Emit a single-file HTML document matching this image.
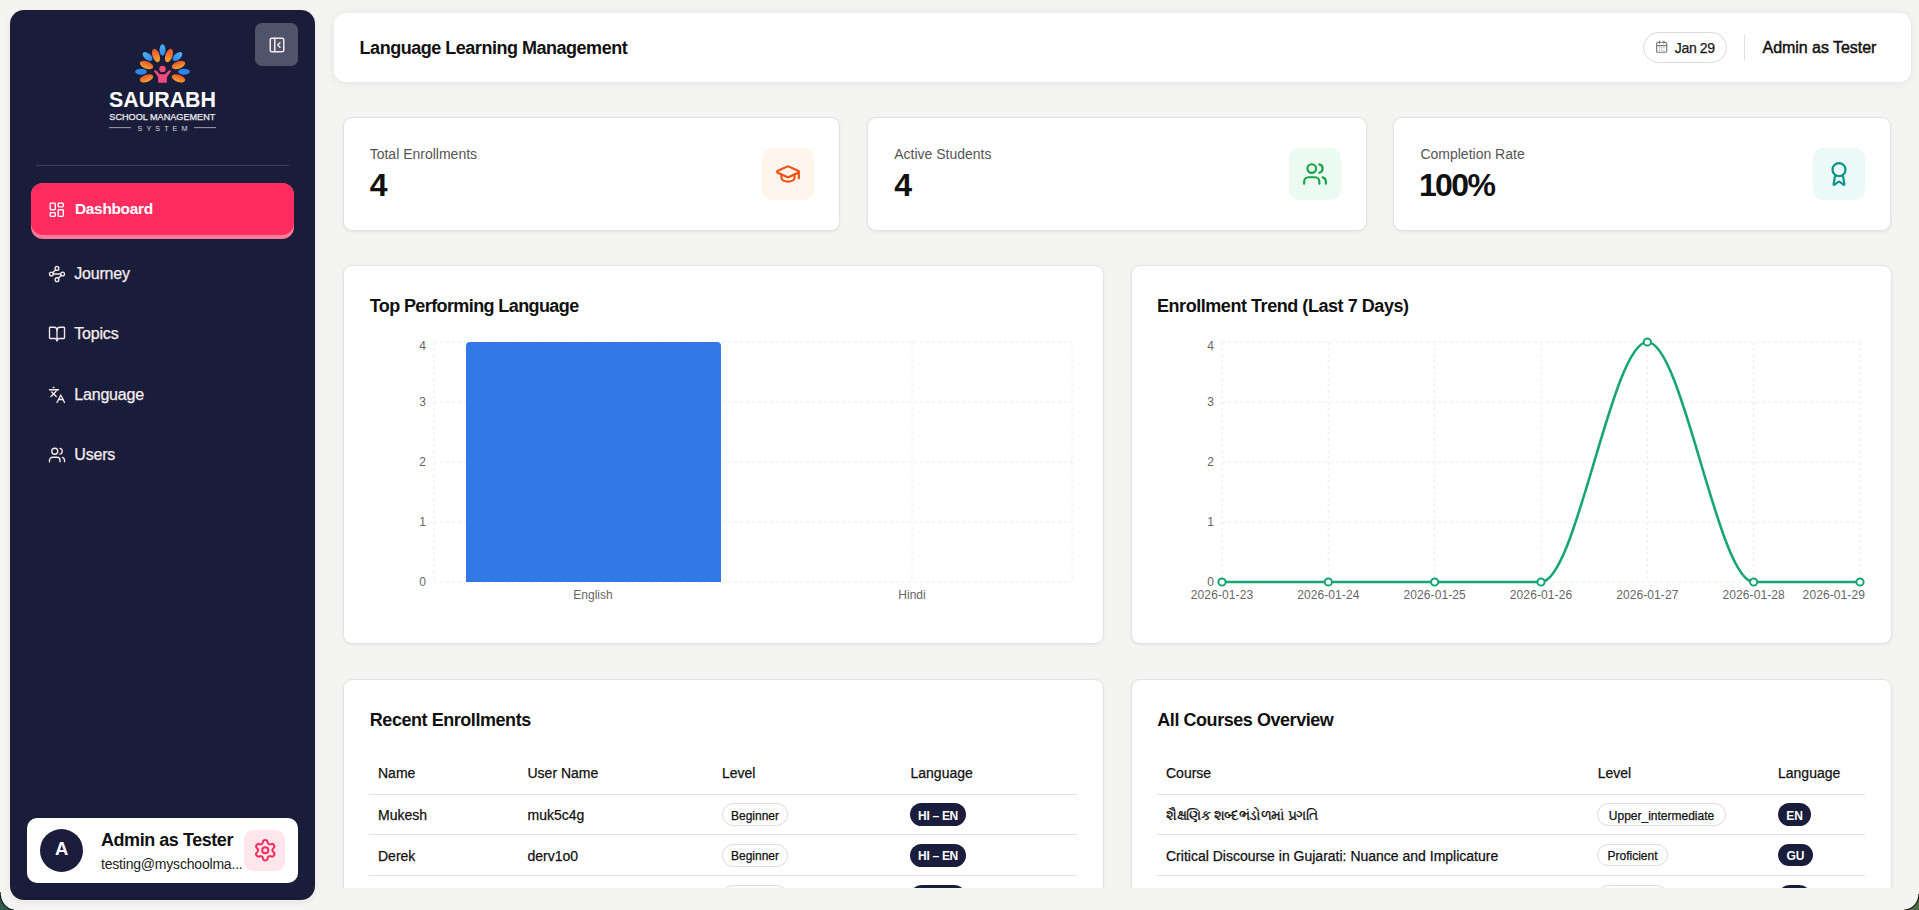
<!DOCTYPE html>
<html><head><meta charset="utf-8"><style>
*{box-sizing:border-box;margin:0;padding:0}
html,body{width:1919px;height:910px;overflow:hidden}
body{background:#f4f4f2;font-family:"Liberation Sans",sans-serif;color:#111;position:relative}
.t{position:absolute;line-height:1;white-space:nowrap}
.ic{position:absolute;display:block}
.box{position:absolute}
.card{position:absolute;background:#fff;border:1px solid #e3e3e6;border-radius:9px;box-shadow:0 1px 3px rgba(0,0,0,.07)}
.pill{position:absolute;border:1px solid #dcdcdf;border-radius:12px;background:#fff}
.dpill{position:absolute;border-radius:12px;background:#1a1d3b}
</style></head><body>
<svg class="ic" style="left:0;top:860px;width:40px;height:50px" viewBox="0 860 40 50"><path d="M0,892 A14,18 0 0 0 14,910 L0,910 Z" fill="#2f5e50"/><path d="M0,892 A14,18 0 0 0 14,910" fill="none" stroke="#0c1a14" stroke-width="1.2"/></svg><svg class="ic" style="left:1879px;top:870px;width:40px;height:40px" viewBox="1879 870 40 40"><path d="M1919,894 A15,16 0 0 1 1904,910 L1919,910 Z" fill="#4f6b45"/><path d="M1919,894 A15,16 0 0 1 1904,910" fill="none" stroke="#101a0c" stroke-width="1.2"/></svg><div class="box" style="left:10px;top:10px;width:305px;height:890px;background:#1a1d3a;border-radius:14px;box-shadow:0 0 0 1px #fbeaea,0 2px 6px rgba(0,0,0,.08)"></div><div class="box" style="left:255px;top:23px;width:43px;height:43px;border-radius:7px;background:#50546a"></div><svg class="ic" style="left:267.7px;top:35.6px;width:18px;height:18px;" viewBox="0 0 24 24" fill="none" stroke="#f5e9ea" stroke-width="2" stroke-linecap="round" stroke-linejoin="round"><rect width="18" height="18" x="3" y="3" rx="2"/><path d="M9 3v18"/><path d="m16 15-3-3 3-3"/></svg>
<svg class="ic" style="left:100px;top:36px;width:124px;height:100px" viewBox="0 0 124 100">
<defs>
<linearGradient id="og" x1="0" y1="0" x2="0" y2="1"><stop offset="0" stop-color="#e8502a"/><stop offset="1" stop-color="#f7a531"/></linearGradient>
<linearGradient id="bg" x1="0" y1="0" x2="0" y2="1"><stop offset="0" stop-color="#4fb2f2"/><stop offset="1" stop-color="#2d8ae8"/></linearGradient>
</defs>
<g transform="translate(-100,-36)">
<ellipse cx="162.5" cy="50" rx="3" ry="5.8" fill="url(#bg)"/>
<ellipse cx="156" cy="55.5" rx="3.5" ry="7" fill="url(#og)" transform="rotate(-20 156 55.5)"/>
<ellipse cx="169" cy="55.5" rx="3.5" ry="7" fill="url(#og)" transform="rotate(20 169 55.5)"/>
<ellipse cx="147.5" cy="56.5" rx="3.2" ry="5.8" fill="url(#bg)" transform="rotate(-50 147.5 56.5)"/>
<ellipse cx="177.5" cy="56.5" rx="3.2" ry="5.8" fill="url(#bg)" transform="rotate(50 177.5 56.5)"/>
<ellipse cx="146.5" cy="65" rx="7" ry="3.6" fill="url(#og)" transform="rotate(20 146.5 65)"/>
<ellipse cx="178.5" cy="65" rx="7" ry="3.6" fill="url(#og)" transform="rotate(-20 178.5 65)"/>
<ellipse cx="141" cy="71.7" rx="5.8" ry="3" fill="#2f86ea"/>
<ellipse cx="184" cy="71.7" rx="5.8" ry="3" fill="#2f86ea"/>
<ellipse cx="146.5" cy="78.3" rx="7" ry="3.6" fill="url(#og)" transform="rotate(-20 146.5 78.3)"/>
<ellipse cx="178.5" cy="78.3" rx="7" ry="3.6" fill="url(#og)" transform="rotate(20 178.5 78.3)"/>
<circle cx="162.5" cy="68.9" r="3.2" fill="#ee4a7c"/>
<path d="M153.8 71 Q155.2 69.6 156.8 70.9 L159.8 74.2 L165.2 74.2 L168.2 70.9 Q169.8 69.6 171.2 71 L167 77 L166.8 82.8 L158.2 82.8 L158 77 Z" fill="#ee4a7c"/>
<text x="162.5" y="107.3" text-anchor="middle" font-family="Liberation Sans" font-weight="700" font-size="22" fill="#fff" textLength="107" lengthAdjust="spacingAndGlyphs">SAURABH</text>
<text x="162.3" y="120.2" text-anchor="middle" font-family="Liberation Sans" font-size="9.4" fill="#ececf0" stroke="#ececf0" stroke-width="0.25" textLength="106" lengthAdjust="spacingAndGlyphs">SCHOOL MANAGEMENT</text>
<rect x="109" y="127.2" width="22" height="0.9" fill="#a8aabb"/>
<rect x="194" y="127.2" width="22" height="0.9" fill="#a8aabb"/>
<text x="162.5" y="130.5" text-anchor="middle" font-family="Liberation Sans" font-size="7.2" fill="#d8d9e2" textLength="50" lengthAdjust="spacing">SYSTEM</text>
</g></svg>
<div class="box" style="left:36px;top:165px;width:253px;height:1px;background:#3a3d58"></div><div class="box" style="left:31px;top:183px;width:263px;height:56px;border-radius:12px;background:#ff7a9b"></div><div class="box" style="left:31px;top:183px;width:263px;height:52px;border-radius:12px;background:#ff2d5f"></div><svg class="ic" style="left:47.6px;top:200.6px;width:17.5px;height:17.5px;" viewBox="0 0 24 24" fill="none" stroke="#fff" stroke-width="1.85" stroke-linecap="round" stroke-linejoin="round"><rect width="7" height="9" x="3" y="3" rx="1"/><rect width="7" height="5" x="14" y="3" rx="1"/><rect width="7" height="9" x="14" y="12" rx="1"/><rect width="7" height="5" x="3" y="16" rx="1"/></svg>
<div class="t " style="left:75.00px;top:201.08px;font-size:15.5px;font-weight:700;color:#fff;letter-spacing:-0.35px;">Dashboard</div>
<svg class="ic" style="left:47.7px;top:264.59999999999997px;width:18px;height:18px;" viewBox="0 0 24 24" fill="none" stroke="#f3e9ea" stroke-width="1.8" stroke-linecap="round" stroke-linejoin="round"><circle cx="12" cy="4.5" r="2.5"/><path d="m10.2 6.3-3.9 3.9"/><circle cx="4.5" cy="12" r="2.5"/><path d="M7 12h10"/><circle cx="19.5" cy="12" r="2.5"/><path d="m13.8 17.7 3.9-3.9"/><circle cx="12" cy="19.5" r="2.5"/></svg>
<div class="t " style="left:74.30px;top:265.86px;font-size:16px;color:#f6eeee;letter-spacing:-0.2px;-webkit-text-stroke:0.25px currentColor;">Journey</div>
<svg class="ic" style="left:47.7px;top:324.59999999999997px;width:18px;height:18px;" viewBox="0 0 24 24" fill="none" stroke="#f3e9ea" stroke-width="1.8" stroke-linecap="round" stroke-linejoin="round"><path d="M12 7v14"/><path d="M3 18a1 1 0 0 1-1-1V4a1 1 0 0 1 1-1h5a4 4 0 0 1 4 4 4 4 0 0 1 4-4h5a1 1 0 0 1 1 1v13a1 1 0 0 1-1 1h-6a3 3 0 0 0-3 3 3 3 0 0 0-3-3z"/></svg>
<div class="t " style="left:74.30px;top:325.86px;font-size:16px;color:#f6eeee;letter-spacing:-0.2px;-webkit-text-stroke:0.25px currentColor;">Topics</div>
<svg class="ic" style="left:47.7px;top:385.8px;width:18px;height:18px;" viewBox="0 0 24 24" fill="none" stroke="#f3e9ea" stroke-width="1.8" stroke-linecap="round" stroke-linejoin="round"><path d="m5 8 6 6"/><path d="m4 14 6-6 2-3"/><path d="M2 5h12"/><path d="M7 2h1"/><path d="m22 22-5-10-5 10"/><path d="M14 18h6"/></svg>
<div class="t " style="left:74.30px;top:387.06px;font-size:16px;color:#f6eeee;letter-spacing:-0.2px;-webkit-text-stroke:0.25px currentColor;">Language</div>
<svg class="ic" style="left:47.7px;top:445.8px;width:18px;height:18px;" viewBox="0 0 24 24" fill="none" stroke="#f3e9ea" stroke-width="1.8" stroke-linecap="round" stroke-linejoin="round"><path d="M16 21v-2a4 4 0 0 0-4-4H6a4 4 0 0 0-4 4v2"/><circle cx="9" cy="7" r="4"/><path d="M22 21v-2a4 4 0 0 0-3-3.87"/><path d="M16 3.13a4 4 0 0 1 0 7.75"/></svg>
<div class="t " style="left:74.30px;top:447.06px;font-size:16px;color:#f6eeee;letter-spacing:-0.2px;-webkit-text-stroke:0.25px currentColor;">Users</div>
<div class="box" style="left:27px;top:818px;width:271px;height:65px;border-radius:10px;background:#fff"></div><div class="box" style="left:40px;top:829px;width:43px;height:43px;border-radius:50%;background:#1a1d3b"></div><div class="t " style="left:61.60px;transform:translateX(-50%);top:840.44px;font-size:18.5px;font-weight:700;color:#fff;">A</div>
<div class="t " style="left:101.00px;top:830.96px;font-size:18px;font-weight:700;color:#111;letter-spacing:-0.45px;">Admin as Tester</div>
<div class="t " style="left:101.00px;top:857.05px;font-size:14px;color:#222;letter-spacing:-0.2px;">testing@myschoolma...</div>
<div class="box" style="left:244px;top:830px;width:41px;height:41px;border-radius:9px;background:#ffe6ec"></div><svg class="ic" style="left:252.8px;top:838px;width:24.5px;height:24.5px;" viewBox="0 0 24 24" fill="none" stroke="#ff2d5f" stroke-width="2" stroke-linecap="round" stroke-linejoin="round"><path d="M9.671 4.136a2.34 2.34 0 0 1 4.659 0 2.34 2.34 0 0 0 3.319 1.915 2.34 2.34 0 0 1 2.33 4.033 2.34 2.34 0 0 0 0 3.831 2.34 2.34 0 0 1-2.33 4.033 2.34 2.34 0 0 0-3.319 1.915 2.34 2.34 0 0 1-4.659 0 2.34 2.34 0 0 0-3.32-1.915 2.34 2.34 0 0 1-2.33-4.033 2.34 2.34 0 0 0 0-3.831A2.34 2.34 0 0 1 6.35 6.051a2.34 2.34 0 0 0 3.319-1.915"/><circle cx="12" cy="12" r="3"/></svg>
<div class="box" style="left:334px;top:13px;width:1577px;height:69px;border-radius:12px;background:#fff;box-shadow:0 1px 10px rgba(0,0,0,.075)"></div><div class="t " style="left:359.60px;top:38.66px;font-size:18px;font-weight:700;color:#111;letter-spacing:-0.48px;">Language Learning Management</div>
<div class="box" style="left:1643px;top:32px;width:84px;height:31px;border-radius:16px;border:1px solid #d9d9dc"></div><svg class="ic" style="left:1654.8px;top:40.2px;width:13.4px;height:13.4px;" viewBox="0 0 24 24" fill="none" stroke="#74747c" stroke-width="2" stroke-linecap="round" stroke-linejoin="round"><rect width="18" height="18" x="3" y="4" rx="2"/><path d="M16 2v4"/><path d="M8 2v4"/><path d="M3 10h18"/><path d="M8 14h.01"/><path d="M12 14h.01"/><path d="M16 14h.01"/><path d="M8 18h.01"/><path d="M12 18h.01"/><path d="M16 18h.01"/></svg>
<div class="t " style="left:1674.80px;top:41.05px;font-size:14px;color:#1a1a1a;letter-spacing:-0.35px;-webkit-text-stroke:0.25px currentColor;">Jan 29</div>
<div class="box" style="left:1744px;top:35px;width:1px;height:25px;background:#dedee2"></div><div class="t " style="left:1762.60px;top:39.66px;font-size:16px;color:#111;letter-spacing:-0.05px;-webkit-text-stroke:0.45px #111;">Admin as Tester</div>
<div class="card" style="left:342.7px;top:117.3px;width:497.5px;height:113.5px"></div><div class="t " style="left:369.70px;top:147.15px;font-size:14px;color:#555;">Total Enrollments</div>
<div class="t " style="left:369.70px;top:168.81px;font-size:32px;font-weight:700;color:#111;letter-spacing:-0.8px;">4</div>
<div class="box" style="left:762.2px;top:148px;width:52px;height:52px;border-radius:10px;background:#fff5ec"></div><svg class="ic" style="left:775.2px;top:161px;width:26px;height:26px;" viewBox="0 0 24 24" fill="none" stroke="#f0500f" stroke-width="2" stroke-linecap="round" stroke-linejoin="round"><path d="M21.42 10.922a1 1 0 0 0-.019-1.838L12.83 5.18a2 2 0 0 0-1.66 0L2.6 9.08a1 1 0 0 0 0 1.832l8.57 3.908a2 2 0 0 0 1.66 0z"/><path d="M22 10v6"/><path d="M6 12.5V16a6 3 0 0 0 12 0v-3.5"/></svg>
<div class="card" style="left:867.2px;top:117.3px;width:499.6px;height:113.5px"></div><div class="t " style="left:894.20px;top:147.15px;font-size:14px;color:#555;">Active Students</div>
<div class="t " style="left:894.20px;top:168.81px;font-size:32px;font-weight:700;color:#111;letter-spacing:-0.8px;">4</div>
<div class="box" style="left:1288.8000000000002px;top:148px;width:52px;height:52px;border-radius:10px;background:#ecfbf1"></div><svg class="ic" style="left:1301.8000000000002px;top:161px;width:26px;height:26px;" viewBox="0 0 24 24" fill="none" stroke="#16a34a" stroke-width="2" stroke-linecap="round" stroke-linejoin="round"><path d="M16 21v-2a4 4 0 0 0-4-4H6a4 4 0 0 0-4 4v2"/><circle cx="9" cy="7" r="4"/><path d="M22 21v-2a4 4 0 0 0-3-3.87"/><path d="M16 3.13a4 4 0 0 1 0 7.75"/></svg>
<div class="card" style="left:1393.4px;top:117.3px;width:497.9px;height:113.5px"></div><div class="t " style="left:1420.40px;top:147.15px;font-size:14px;color:#555;">Completion Rate</div>
<div class="t " style="left:1418.90px;top:168.81px;font-size:32px;font-weight:700;color:#111;letter-spacing:-1.6px;">100%</div>
<div class="box" style="left:1813.3000000000002px;top:148px;width:52px;height:52px;border-radius:10px;background:#ebfaf7"></div><svg class="ic" style="left:1826.3000000000002px;top:161px;width:26px;height:26px;" viewBox="0 0 24 24" fill="none" stroke="#0d9488" stroke-width="2" stroke-linecap="round" stroke-linejoin="round"><path d="m15.477 12.89 1.515 8.526a.5.5 0 0 1-.81.47l-3.58-2.687a1 1 0 0 0-1.197 0l-3.586 2.686a.5.5 0 0 1-.81-.469l1.514-8.526"/><circle cx="12" cy="8" r="6"/></svg>
<div class="card" style="left:343px;top:265px;width:761px;height:379px"></div><div class="card" style="left:1131px;top:265px;width:761px;height:379px"></div><div class="t " style="left:369.70px;top:297.46px;font-size:18px;font-weight:700;color:#111;letter-spacing:-0.6px;">Top Performing Language</div>
<div class="t " style="left:1157.00px;top:297.46px;font-size:18px;font-weight:700;color:#111;letter-spacing:-0.45px;">Enrollment Trend (Last 7 Days)</div>
<svg class="ic" style="left:0;top:0;width:1919px;height:910px" viewBox="0 0 1919 910">
<line x1="434" y1="342" x2="1072" y2="342" stroke="#ececec" stroke-dasharray="3 3"/>
<line x1="434" y1="402" x2="1072" y2="402" stroke="#ececec" stroke-dasharray="3 3"/>
<line x1="434" y1="462" x2="1072" y2="462" stroke="#ececec" stroke-dasharray="3 3"/>
<line x1="434" y1="522" x2="1072" y2="522" stroke="#ececec" stroke-dasharray="3 3"/>
<line x1="434" y1="582" x2="1072" y2="582" stroke="#ececec" stroke-dasharray="3 3"/>
<line x1="434" y1="342" x2="434" y2="582" stroke="#ececec" stroke-dasharray="3 3"/>
<line x1="593" y1="342" x2="593" y2="582" stroke="#ececec" stroke-dasharray="3 3"/>
<line x1="912" y1="342" x2="912" y2="582" stroke="#ececec" stroke-dasharray="3 3"/>
<line x1="1072" y1="342" x2="1072" y2="582" stroke="#ececec" stroke-dasharray="3 3"/>
<path d="M466 582 V346 a4 4 0 0 1 4 -4 H717 a4 4 0 0 1 4 4 V582 Z" fill="#3278e6"/>
<line x1="1222" y1="342" x2="1860" y2="342" stroke="#ececec" stroke-dasharray="3 3"/>
<line x1="1222" y1="402" x2="1860" y2="402" stroke="#ececec" stroke-dasharray="3 3"/>
<line x1="1222" y1="462" x2="1860" y2="462" stroke="#ececec" stroke-dasharray="3 3"/>
<line x1="1222" y1="522" x2="1860" y2="522" stroke="#ececec" stroke-dasharray="3 3"/>
<line x1="1222" y1="582" x2="1860" y2="582" stroke="#ececec" stroke-dasharray="3 3"/>
<line x1="1222.0" y1="342" x2="1222.0" y2="582" stroke="#ececec" stroke-dasharray="3 3"/>
<line x1="1328.3" y1="342" x2="1328.3" y2="582" stroke="#ececec" stroke-dasharray="3 3"/>
<line x1="1434.7" y1="342" x2="1434.7" y2="582" stroke="#ececec" stroke-dasharray="3 3"/>
<line x1="1541.0" y1="342" x2="1541.0" y2="582" stroke="#ececec" stroke-dasharray="3 3"/>
<line x1="1647.3" y1="342" x2="1647.3" y2="582" stroke="#ececec" stroke-dasharray="3 3"/>
<line x1="1753.7" y1="342" x2="1753.7" y2="582" stroke="#ececec" stroke-dasharray="3 3"/>
<line x1="1860.0" y1="342" x2="1860.0" y2="582" stroke="#ececec" stroke-dasharray="3 3"/>
<path d="M1222.00,582C1257.44,582 1292.89,582 1328.33,582C1363.78,582 1399.22,582 1434.67,582C1470.11,582 1505.56,582 1541.00,582C1576.44,582 1611.89,342 1647.33,342C1682.78,342 1718.22,582 1753.67,582C1789.11,582 1824.56,582 1860.00,582" fill="none" stroke="#17a673" stroke-width="2.6"/>
<circle cx="1222.00" cy="582" r="3.6" fill="#fff" stroke="#17a673" stroke-width="2"/>
<circle cx="1328.33" cy="582" r="3.6" fill="#fff" stroke="#17a673" stroke-width="2"/>
<circle cx="1434.67" cy="582" r="3.6" fill="#fff" stroke="#17a673" stroke-width="2"/>
<circle cx="1541.00" cy="582" r="3.6" fill="#fff" stroke="#17a673" stroke-width="2"/>
<circle cx="1647.33" cy="342" r="3.6" fill="#fff" stroke="#17a673" stroke-width="2"/>
<circle cx="1753.67" cy="582" r="3.6" fill="#fff" stroke="#17a673" stroke-width="2"/>
<circle cx="1860.00" cy="582" r="3.6" fill="#fff" stroke="#17a673" stroke-width="2"/>
</svg><div class="t " style="right:1493.00px;top:339.84px;font-size:12px;color:#666;">4</div>
<div class="t " style="right:705.00px;top:339.84px;font-size:12px;color:#666;">4</div>
<div class="t " style="right:1493.00px;top:395.84px;font-size:12px;color:#666;">3</div>
<div class="t " style="right:705.00px;top:395.84px;font-size:12px;color:#666;">3</div>
<div class="t " style="right:1493.00px;top:455.84px;font-size:12px;color:#666;">2</div>
<div class="t " style="right:705.00px;top:455.84px;font-size:12px;color:#666;">2</div>
<div class="t " style="right:1493.00px;top:515.84px;font-size:12px;color:#666;">1</div>
<div class="t " style="right:705.00px;top:515.84px;font-size:12px;color:#666;">1</div>
<div class="t " style="right:1493.00px;top:575.84px;font-size:12px;color:#666;">0</div>
<div class="t " style="right:705.00px;top:575.84px;font-size:12px;color:#666;">0</div>
<div class="t " style="left:593.00px;transform:translateX(-50%);top:589.24px;font-size:12px;color:#666;">English</div>
<div class="t " style="left:912.00px;transform:translateX(-50%);top:589.24px;font-size:12px;color:#666;">Hindi</div>
<div class="t " style="left:1222.00px;transform:translateX(-50%);top:589.04px;font-size:12px;color:#666;letter-spacing:0.1px;">2026-01-23</div>
<div class="t " style="left:1328.33px;transform:translateX(-50%);top:589.04px;font-size:12px;color:#666;letter-spacing:0.1px;">2026-01-24</div>
<div class="t " style="left:1434.67px;transform:translateX(-50%);top:589.04px;font-size:12px;color:#666;letter-spacing:0.1px;">2026-01-25</div>
<div class="t " style="left:1541.00px;transform:translateX(-50%);top:589.04px;font-size:12px;color:#666;letter-spacing:0.1px;">2026-01-26</div>
<div class="t " style="left:1647.33px;transform:translateX(-50%);top:589.04px;font-size:12px;color:#666;letter-spacing:0.1px;">2026-01-27</div>
<div class="t " style="left:1753.67px;transform:translateX(-50%);top:589.04px;font-size:12px;color:#666;letter-spacing:0.1px;">2026-01-28</div>
<div class="t " style="right:54.00px;top:589.04px;font-size:12px;color:#666;letter-spacing:0.1px;">2026-01-29</div>
<div class="box" style="left:320px;top:0;width:1599px;height:888px;overflow:hidden"><div class="card" style="left:23px;top:679px;width:761px;height:300px"></div><div class="card" style="left:811px;top:679px;width:761px;height:300px"></div></div><div class="t " style="left:369.80px;top:710.86px;font-size:18px;font-weight:700;color:#111;letter-spacing:-0.45px;">Recent Enrollments</div>
<div class="t " style="left:1157.30px;top:710.86px;font-size:18px;font-weight:700;color:#111;letter-spacing:-0.45px;">All Courses Overview</div>
<div class="t " style="left:378.00px;top:765.55px;font-size:14px;color:#111;-webkit-text-stroke:0.25px currentColor;">Name</div>
<div class="t " style="left:527.50px;top:765.55px;font-size:14px;color:#111;-webkit-text-stroke:0.25px currentColor;">User Name</div>
<div class="t " style="left:722.00px;top:765.55px;font-size:14px;color:#111;-webkit-text-stroke:0.25px currentColor;">Level</div>
<div class="t " style="left:910.50px;top:765.55px;font-size:14px;color:#111;-webkit-text-stroke:0.25px currentColor;">Language</div>
<div class="t " style="left:1166.00px;top:765.55px;font-size:14px;color:#111;-webkit-text-stroke:0.25px currentColor;">Course</div>
<div class="t " style="left:1597.70px;top:765.55px;font-size:14px;color:#111;-webkit-text-stroke:0.25px currentColor;">Level</div>
<div class="t " style="left:1778.00px;top:765.55px;font-size:14px;color:#111;-webkit-text-stroke:0.25px currentColor;">Language</div>
<div class="box" style="left:369px;top:794px;width:708px;height:1px;background:#e2e2e5"></div><div class="box" style="left:369px;top:834px;width:708px;height:1px;background:#e2e2e5"></div><div class="box" style="left:369px;top:875px;width:708px;height:1px;background:#e2e2e5"></div><div class="box" style="left:1157px;top:794px;width:708px;height:1px;background:#e2e2e5"></div><div class="box" style="left:1157px;top:834px;width:708px;height:1px;background:#e2e2e5"></div><div class="box" style="left:1157px;top:875px;width:708px;height:1px;background:#e2e2e5"></div><div class="t " style="left:378.00px;top:808.45px;font-size:14px;color:#111;-webkit-text-stroke:0.25px currentColor;">Mukesh</div>
<div class="t " style="left:527.50px;top:808.45px;font-size:14px;color:#111;-webkit-text-stroke:0.25px currentColor;">muk5c4g</div>
<div class="pill" style="left:722px;top:803px;width:66px;height:23px"></div><div class="t " style="left:755.00px;transform:translateX(-50%);top:809.64px;font-size:12px;color:#111;-webkit-text-stroke:0.25px currentColor;">Beginner</div>
<div class="dpill" style="left:910px;top:803px;width:56px;height:23px"></div><div class="t " style="left:938.00px;transform:translateX(-50%);top:809.64px;font-size:12px;font-weight:700;color:#fff;letter-spacing:-0.3px;">HI – EN</div>
<div class="t " style="left:378.00px;top:848.95px;font-size:14px;color:#111;-webkit-text-stroke:0.25px currentColor;">Derek</div>
<div class="t " style="left:527.50px;top:848.95px;font-size:14px;color:#111;-webkit-text-stroke:0.25px currentColor;">derv1o0</div>
<div class="pill" style="left:722px;top:844px;width:66px;height:23px"></div><div class="t " style="left:755.00px;transform:translateX(-50%);top:850.14px;font-size:12px;color:#111;-webkit-text-stroke:0.25px currentColor;">Beginner</div>
<div class="dpill" style="left:910px;top:844px;width:56px;height:23px"></div><div class="t " style="left:938.00px;transform:translateX(-50%);top:850.14px;font-size:12px;font-weight:700;color:#fff;letter-spacing:-0.3px;">HI – EN</div>
<div class="t " style="left:1166.00px;top:808.45px;font-size:14px;color:#111;letter-spacing:-0.4px;-webkit-text-stroke:0.25px currentColor;">શૈક્ષણિક શબ્દભંડોળમાં પ્રગતિ</div>
<div class="t " style="left:1166.00px;top:848.95px;font-size:14px;color:#111;-webkit-text-stroke:0.25px currentColor;">Critical Discourse in Gujarati: Nuance and Implicature</div>
<div class="pill" style="left:1597px;top:803px;width:129px;height:23px"></div><div class="t " style="left:1661.50px;transform:translateX(-50%);top:809.64px;font-size:12px;color:#111;-webkit-text-stroke:0.25px currentColor;">Upper_intermediate</div>
<div class="dpill" style="left:1778px;top:803px;width:33px;height:23px"></div><div class="t " style="left:1794.50px;transform:translateX(-50%);top:809.64px;font-size:12px;font-weight:700;color:#fff;">EN</div>
<div class="pill" style="left:1597px;top:844px;width:71px;height:22px"></div><div class="t " style="left:1632.50px;transform:translateX(-50%);top:850.14px;font-size:12px;color:#111;-webkit-text-stroke:0.25px currentColor;">Proficient</div>
<div class="dpill" style="left:1778px;top:844px;width:35px;height:22px"></div><div class="t " style="left:1795.50px;transform:translateX(-50%);top:850.14px;font-size:12px;font-weight:700;color:#fff;">GU</div>
<div class="box" style="left:320px;top:0;width:1599px;height:888px;overflow:hidden"><div class="pill" style="left:402px;top:885px;width:66px;height:23px"></div><div class="dpill" style="left:590px;top:885px;width:56px;height:23px"></div><div class="pill" style="left:1277px;top:885px;width:71px;height:23px"></div><div class="dpill" style="left:1458px;top:885px;width:33px;height:23px"></div></div></body></html>
